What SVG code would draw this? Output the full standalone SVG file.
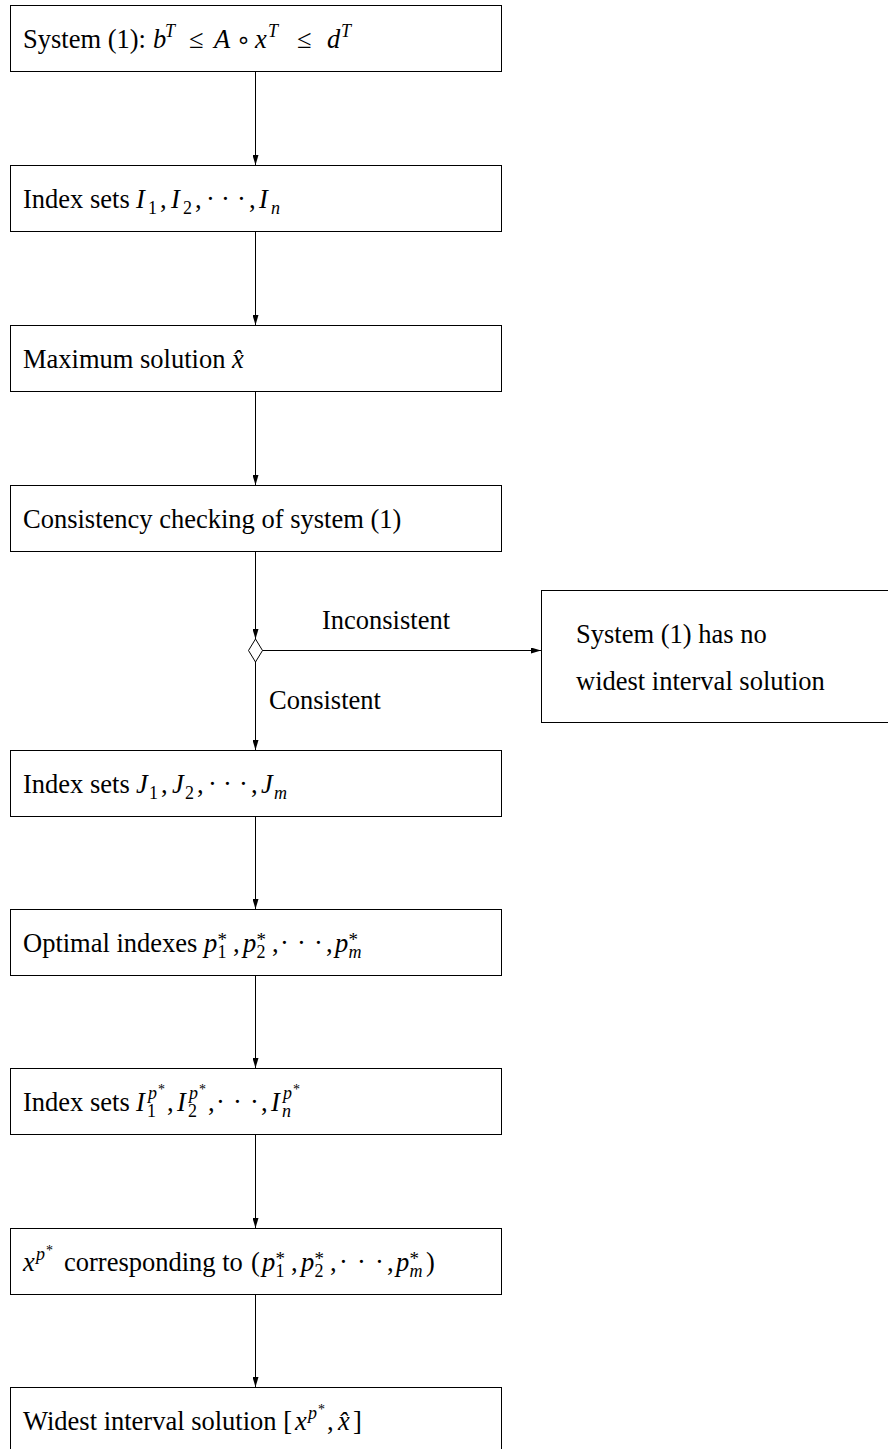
<svg xmlns="http://www.w3.org/2000/svg" width="888" height="1449" viewBox="0 0 888 1449">
<style>
  .box { fill: #fff; stroke: #000; stroke-width: 1; }
  .t { font-family: "Liberation Serif", "Times New Roman", serif; font-size: 26.5px; fill: #000; }
  .i { font-style: italic; }
  .s { font-size: 18px; }
  .st { font-size: 19px; }
  .ss { font-size: 14px; }
  .op { font-family: "DejaVu Sans", sans-serif; font-size: 24px; }
  .conn line { stroke: #000; stroke-width: 1; }
</style>
<defs>
  <marker id="arr" markerWidth="10" markerHeight="6" refX="10" refY="3" orient="auto" markerUnits="userSpaceOnUse" viewBox="0 0 10 6">
    <path d="M0,0 L10,3 L0,6 z" fill="#000"/>
  </marker>
</defs>

<g id="connectors" class="conn">
  <line x1="255.5" y1="71" x2="255.5" y2="165" marker-end="url(#arr)"/>
  <line x1="255.5" y1="231" x2="255.5" y2="325" marker-end="url(#arr)"/>
  <line x1="255.5" y1="391" x2="255.5" y2="485" marker-end="url(#arr)"/>
  <line x1="255.5" y1="551" x2="255.5" y2="639" marker-end="url(#arr)"/>
  <polygon points="255.5,639 262.5,650.5 255.5,662 248.5,650.5" fill="#fff" stroke="#000" stroke-width="1"/>
  <line x1="262.5" y1="650.5" x2="541" y2="650.5" marker-end="url(#arr)"/>
  <line x1="255.5" y1="662" x2="255.5" y2="750" marker-end="url(#arr)"/>
  <line x1="255.5" y1="816" x2="255.5" y2="909" marker-end="url(#arr)"/>
  <line x1="255.5" y1="975" x2="255.5" y2="1068" marker-end="url(#arr)"/>
  <line x1="255.5" y1="1134" x2="255.5" y2="1228" marker-end="url(#arr)"/>
  <line x1="255.5" y1="1294" x2="255.5" y2="1387" marker-end="url(#arr)"/>
  <text class="t" x="386" y="629" text-anchor="middle">Inconsistent</text>
  <text class="t" x="269" y="709">Consistent</text>
</g>

<g id="n1">
  <rect class="box" x="10.5" y="5.5" width="491" height="66"/>
  <text class="t" y="48"><tspan x="23">System (1):</tspan><tspan class="i" x="153">b</tspan><tspan class="s i" x="165" y="37">T</tspan><tspan x="189" y="48">≤</tspan><tspan class="i" x="214">A</tspan><tspan class="op" x="236">∘</tspan><tspan class="i" x="255">x</tspan><tspan class="s i" x="268" y="37">T</tspan><tspan x="297" y="48">≤</tspan><tspan class="i" x="327">d</tspan><tspan class="s i" x="341" y="37">T</tspan></text>
</g>

<g id="n2">
  <rect class="box" x="10.5" y="165.5" width="491" height="66"/>
  <text class="t" y="208"><tspan x="23">Index sets</tspan><tspan class="i" x="136">I</tspan><tspan class="s" x="148" y="214">1</tspan><tspan x="160" y="208">,</tspan><tspan class="i" x="171">I</tspan><tspan class="s" x="183" y="214">2</tspan><tspan x="195" y="208">,</tspan><tspan x="206">·</tspan><tspan x="221">·</tspan><tspan x="237">·</tspan><tspan x="249">,</tspan><tspan class="i" x="259">I</tspan><tspan class="s i" x="271" y="214">n</tspan></text>
</g>

<g id="n3">
  <rect class="box" x="10.5" y="325.5" width="491" height="66"/>
  <text class="t" y="368"><tspan x="23">Maximum solution</tspan><tspan class="i" x="232">x̂</tspan></text>
</g>

<g id="n4">
  <rect class="box" x="10.5" y="485.5" width="491" height="66"/>
  <text class="t" x="23" y="528">Consistency checking of system (1)</text>
</g>

<g id="n5">
  <rect class="box" x="541.5" y="590.5" width="360" height="132"/>
  <text class="t" x="576" y="643">System (1) has no</text>
  <text class="t" x="576" y="690">widest interval solution</text>
</g>

<g id="n6">
  <rect class="box" x="10.5" y="750.5" width="491" height="66"/>
  <text class="t" y="793"><tspan x="23">Index sets</tspan><tspan class="i" x="136">J</tspan><tspan class="s" x="149" y="799">1</tspan><tspan x="161" y="793">,</tspan><tspan class="i" x="172">J</tspan><tspan class="s" x="185" y="799">2</tspan><tspan x="197" y="793">,</tspan><tspan x="208">·</tspan><tspan x="223">·</tspan><tspan x="239">·</tspan><tspan x="251">,</tspan><tspan class="i" x="261">J</tspan><tspan class="s i" x="274" y="799">m</tspan></text>
</g>

<g id="n7">
  <rect class="box" x="10.5" y="909.5" width="491" height="66"/>
  <text class="t" y="952"><tspan x="23">Optimal indexes</tspan><tspan class="i" x="204">p</tspan><tspan class="st" x="217.5" y="946">*</tspan><tspan class="s" x="217.5" y="958">1</tspan><tspan x="233" y="952">,</tspan><tspan class="i" x="243">p</tspan><tspan class="st" x="256.5" y="946">*</tspan><tspan class="s" x="256.5" y="958">2</tspan><tspan x="272" y="952">,</tspan><tspan x="280">·</tspan><tspan x="297">·</tspan><tspan x="314">·</tspan><tspan x="326">,</tspan><tspan class="i" x="335">p</tspan><tspan class="st" x="348.5" y="946">*</tspan><tspan class="s i" x="348.5" y="958">m</tspan></text>
</g>

<g id="n8">
  <rect class="box" x="10.5" y="1068.5" width="491" height="66"/>
  <text class="t" y="1111"><tspan x="23">Index sets</tspan><tspan class="i" x="136">I</tspan><tspan class="s" x="147" y="1117">1</tspan><tspan class="s i" x="148" y="1099">p</tspan><tspan class="ss" x="158" y="1094">*</tspan><tspan x="167" y="1111">,</tspan><tspan class="i" x="177">I</tspan><tspan class="s" x="188" y="1117">2</tspan><tspan class="s i" x="189" y="1099">p</tspan><tspan class="ss" x="199" y="1094">*</tspan><tspan x="208" y="1111">,</tspan><tspan x="216">·</tspan><tspan x="233">·</tspan><tspan x="250">·</tspan><tspan x="261">,</tspan><tspan class="i" x="271">I</tspan><tspan class="s i" x="282" y="1117">n</tspan><tspan class="s i" x="283" y="1099">p</tspan><tspan class="ss" x="293" y="1094">*</tspan></text>
</g>

<g id="n9">
  <rect class="box" x="10.5" y="1228.5" width="491" height="66"/>
  <text class="t" y="1271"><tspan class="i" x="23">x</tspan><tspan class="s i" x="36" y="1260">p</tspan><tspan class="ss" x="46" y="1255">*</tspan><tspan x="64" y="1271">corresponding to</tspan><tspan x="251">(</tspan><tspan class="i" x="262">p</tspan><tspan class="st" x="275.5" y="1265">*</tspan><tspan class="s" x="275.5" y="1277">1</tspan><tspan x="291" y="1271">,</tspan><tspan class="i" x="301">p</tspan><tspan class="st" x="314.5" y="1265">*</tspan><tspan class="s" x="314.5" y="1277">2</tspan><tspan x="330" y="1271">,</tspan><tspan x="339">·</tspan><tspan x="357">·</tspan><tspan x="375">·</tspan><tspan x="387">,</tspan><tspan class="i" x="396">p</tspan><tspan class="st" x="409.5" y="1265">*</tspan><tspan class="s i" x="409.5" y="1277">m</tspan><tspan x="426" y="1271">)</tspan></text>
</g>

<g id="n10">
  <rect class="box" x="10.5" y="1387.5" width="491" height="66"/>
  <text class="t" y="1430"><tspan x="23">Widest interval solution [</tspan><tspan class="i" x="295">x</tspan><tspan class="s i" x="308" y="1419">p</tspan><tspan class="ss" x="318" y="1414">*</tspan><tspan x="327" y="1430">,</tspan><tspan class="i" x="338">x̂</tspan><tspan x="353">]</tspan></text>
</g>
</svg>
